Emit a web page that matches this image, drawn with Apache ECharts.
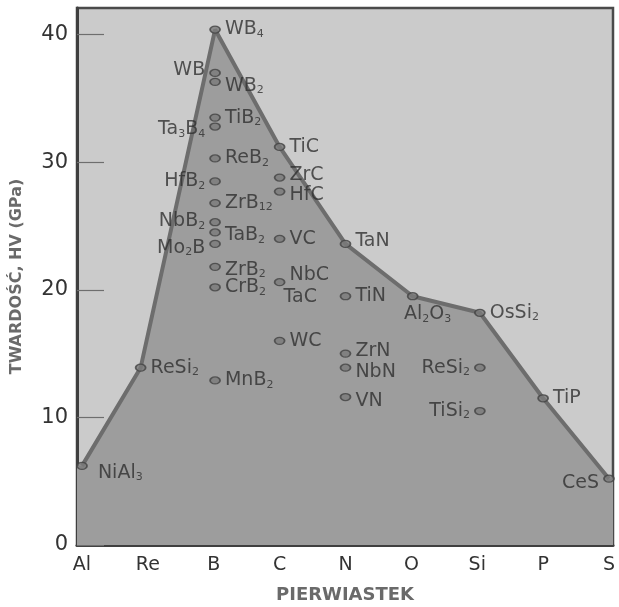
<!DOCTYPE html>
<html>
<head>
<meta charset="utf-8">
<script src="https://cdn.jsdelivr.net/npm/echarts@6/dist/echarts.min.js"></script>
<style>
  html, body { margin: 0; padding: 0; background: #fff; }
  #chart { width: 619px; height: 607px; }
</style>
</head>
<body>
<div id="chart"></div>
<script>
// pierwiastki na osi X
const elements = ['Al', 'Re', 'B', 'C', 'N', 'O', 'Si', 'P', 'S'];
const yTicks = [0, 10, 20, 30, 40];

// obwiednia (najtwardsze zwiazki dla kazdego pierwiastka)
const envX = [0, 0.89, 2.02, 3, 4, 5.02, 6.04, 7, 8];
const envHV = [6.2, 13.9, 40.4, 31.2, 23.6, 19.5, 18.2, 11.5, 5.2];

// wszystkie zwiazki: nazwa (_n = indeks dolny), pozycja X, twardosc HV [GPa]
const names = ['NiAl_3', 'ReSi_2', 'WB_4', 'WB', 'WB_2', 'TiB_2', 'Ta_3B_4', 'ReB_2', 'HfB_2', 'ZrB_12',
  'NbB_2', 'TaB_2', 'Mo_2B', 'ZrB_2', 'CrB_2', 'MnB_2', 'TiC', 'ZrC', 'HfC', 'VC', 'NbC', 'TaC', 'WC',
  'TaN', 'TiN', 'ZrN', 'NbN', 'VN', 'Al_2O_3', 'OsSi_2', 'ReSi_2 ', 'TiSi_2', 'TiP', 'CeS'];
const xPos = [0, 0.89, 2.02, 2.02, 2.02, 2.02, 2.02, 2.02, 2.02, 2.02,
  2.02, 2.02, 2.02, 2.02, 2.02, 2.02, 3, 3, 3, 3, 3, 3, 3,
  4, 4, 4, 4, 4, 5.02, 6.04, 6.04, 6.04, 7, 8];
const hv = [6.2, 13.9, 40.4, 37.0, 36.3, 33.5, 32.8, 30.3, 28.5, 26.8,
  25.3, 24.5, 23.6, 21.8, 20.2, 12.9, 31.2, 28.8, 27.7, 24.0, 20.6, 20.6, 16.0,
  23.6, 19.5, 15.0, 13.9, 11.6, 19.5, 18.2, 13.9, 10.5, 11.5, 5.2];

// polozenie etykiet (styl, nie dane)
const labelPos = {
  'NiAl_3': ['right', [6, 7]], 'WB': ['left', [0, -3]], 'WB_2': ['right', [0, 4]],
  'Ta_3B_4': ['left', [0, 3]], 'HfB_2': ['left', [0, 0]], 'NbB_2': ['left', [0, -1]],
  'TaB_2': ['right', [0, 3]], 'Mo_2B': ['left', [0, 4]], 'ZrB_2': ['right', [0, 3]],
  'ZrC': ['right', [0, -2]], 'HfC': ['right', [0, 3]], 'NbC': ['right', [0, -7]],
  'TaC': ['right', [0, 15]], 'TaN': ['right', [0, -3]], 'ZrN': ['right', [0, -3]],
  'NbN': ['right', [0, 4]], 'VN': ['right', [0, 4]], 'Al_2O_3': ['bottom', [15, 0]],
  'ReSi_2 ': ['left', [0, 0]], 'TiSi_2': ['left', [0, 0]], 'CeS': ['left', [0, 4]]
};

const fmtName = s => s.trim().replace(/_(\d+)/g, '{s|$1}');

const points = names.map((n, i) => {
  const lp = labelPos[n] || ['right', [0, 0]];
  return {
    name: n,
    value: [xPos[i], hv[i]],
    symbolSize: n === 'TaC' ? 0 : [10, 7],
    label: { position: lp[0], offset: lp[1] }
  };
});

const xMin = -0.076, xMax = 8.061, yMax = 42.09;

const chart = echarts.init(document.getElementById('chart'));
chart.setOption({
  animation: false,
  backgroundColor: '#fff',
  grid: {
    left: 77, right: 6, top: 8, bottom: 62,
    outerBoundsMode: 'none', containLabel: false,
    show: true, backgroundColor: '#cbcbcb',
    borderColor: '#4a4a4a', borderWidth: 2.5
  },
  xAxis: {
    type: 'value', min: xMin, max: xMax,
    name: 'PIERWIASTEK', nameLocation: 'middle', nameGap: 41,
    nameTextStyle: { fontFamily: 'DejaVu Sans', fontWeight: 'bold', fontSize: 18, color: '#6a6a6a' },
    splitLine: { show: false },
    axisLine: { onZero: false, lineStyle: { color: '#3f3f3f', width: 3 } },
    axisTick: { inside: true, length: 25, customValues: [1, 2, 3, 4, 5, 6, 7], lineStyle: { color: '#6e6e6e', width: 1.2 } },
    axisLabel: {
      customValues: [0, 1, 2, 3, 4, 5, 6, 7, 8],
      formatter: v => elements[Math.round(v)],
      fontFamily: 'DejaVu Sans', fontSize: 19, color: '#333', margin: 11
    }
  },
  yAxis: {
    type: 'value', min: 0, max: yMax,
    name: 'TWARDOŚĆ, HV (GPa)', nameLocation: 'middle', nameGap: 52, nameRotate: 90,
    nameTextStyle: { fontFamily: 'DejaVu Sans', fontWeight: 'bold', fontSize: 16, color: '#6a6a6a' },
    splitLine: { show: false },
    axisLine: { onZero: false, lineStyle: { color: '#3f3f3f', width: 3 } },
    axisTick: { inside: true, length: 27, customValues: yTicks, lineStyle: { color: '#6e6e6e', width: 1.2 } },
    axisLabel: { customValues: yTicks, fontFamily: 'DejaVu Sans', fontSize: 21, color: '#333', margin: 9 }
  },
  series: [
    {
      // wypelnienie pod obwiednia, dociagniete do krawedzi wykresu
      type: 'line', silent: true, symbol: 'none',
      data: [[xMin, envHV[0]]].concat(envX.map((x, i) => [x, envHV[i]]), [[xMax, envHV[envHV.length - 1]]]),
      lineStyle: { width: 0 },
      areaStyle: { color: '#9d9d9d', opacity: 1, origin: 'start' },
      z: 1
    },
    {
      type: 'line', silent: true, symbol: 'none',
      data: envX.map((x, i) => [x, envHV[i]]),
      lineStyle: { color: '#6d6d6d', width: 4 },
      z: 2
    },
    {
      type: 'scatter', z: 3,
      data: points,
      symbol: 'circle',
      itemStyle: { color: '#7b7b7b', borderColor: '#424242', borderWidth: 1.5 },
      label: {
        show: true, distance: 4,
        formatter: p => fmtName(p.name),
        fontFamily: 'DejaVu Sans', fontSize: 19, lineHeight: 20, color: '#2f2f2f',
        rich: { s: { fontFamily: 'DejaVu Sans', fontSize: 11, lineHeight: 11, verticalAlign: 'bottom', color: '#2f2f2f' } }
      }
    }
  ]
});
</script>
</body>
</html>
